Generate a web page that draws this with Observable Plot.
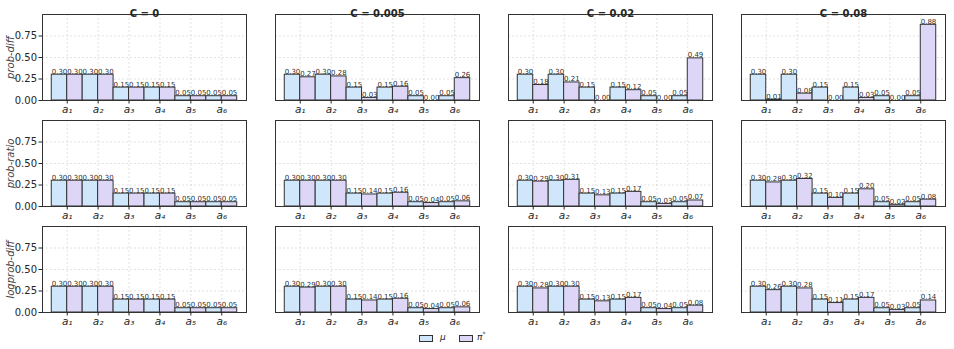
<!DOCTYPE html>
<html>
<head>
<meta charset="utf-8">
<script src="https://cdn.jsdelivr.net/npm/d3@7"></script>
<script src="https://cdn.jsdelivr.net/npm/@observablehq/plot@0.6"></script>
<style>
  html, body { margin: 0; padding: 0; background: #fff; }
  body { width: 954px; height: 349px; position: relative; font-family: "DejaVu Sans", sans-serif; overflow: hidden; }
  #chart svg { display: block; overflow: visible; }
  #legend { position: absolute; left: 419px; top: 333px; height: 10px; font-family: "DejaVu Sans", sans-serif; font-size: 9px; color: #262626; }
  #legend .sw { position: absolute; top: 2px; width: 12px; height: 5px; border: 1px solid #333; }
  #legend .lb { position: absolute; top: -1px; font-style: italic; line-height: 10px; }
</style>
</head>
<body>
<div id="chart"></div>
<div id="legend">
  <span class="sw" style="left:0px;background:#d0e6fa"></span><span class="lb" style="left:21px">μ</span>
  <span class="sw" style="left:40px;background:#ddd6f6"></span><span class="lb" style="left:58px">π<sup style="font-size:6px;vertical-align:4px;line-height:0">*</sup></span>
</div>
<script>
// ---- data ----
const actions = ["a1", "a2", "a3", "a4", "a5", "a6"];
const actionLabels = ["a₁", "a₂", "a₃", "a₄", "a₅", "a₆"];
const cValues = ["0", "0.005", "0.02", "0.08"];
const metrics = ["prob-diff", "prob-ratio", "logprob-diff"];
const seriesNames = ["μ", "π*"];

const muProbs = [0.30, 0.30, 0.15, 0.15, 0.05, 0.05];

// π* per C (columns) for each metric
const piProbDiff = [
  [0.30, 0.30, 0.15, 0.15, 0.05, 0.05],
  [0.27, 0.28, 0.03, 0.16, 0.00, 0.26],
  [0.18, 0.21, 0.00, 0.12, 0.00, 0.49],
  [0.01, 0.08, 0.00, 0.03, 0.00, 0.88]
];
const piProbRatio = [
  [0.30, 0.30, 0.15, 0.15, 0.05, 0.05],
  [0.30, 0.30, 0.14, 0.16, 0.04, 0.06],
  [0.29, 0.31, 0.13, 0.17, 0.03, 0.07],
  [0.28, 0.32, 0.10, 0.20, 0.02, 0.08]
];
const piLogprobDiff = [
  [0.30, 0.30, 0.15, 0.15, 0.05, 0.05],
  [0.29, 0.30, 0.14, 0.16, 0.04, 0.06],
  [0.28, 0.30, 0.13, 0.17, 0.04, 0.08],
  [0.26, 0.28, 0.11, 0.17, 0.03, 0.14]
];
const yTicks = [0, 0.25, 0.5, 0.75];

// ---- table ----
const piByMetric = {"prob-diff": piProbDiff, "prob-ratio": piProbRatio, "logprob-diff": piLogprobDiff};
const rows = [];
for (const m of metrics) {
  cValues.forEach((c, ci) => {
    actions.forEach((a, i) => {
      rows.push({metric: m, C: c, i, series: "μ", value: muProbs[i]});
      rows.push({metric: m, C: c, i, series: "π*", value: piByMetric[m][ci][i]});
    });
  });
}
const left = d => d.i - 0.5 + (d.series === "μ" ? 0 : 0.5);
const right = d => left(d) + 0.5;
const center = d => left(d) + 0.25;

const chart = Plot.plot({
  width: 954,
  height: 326,
  marginTop: 14,
  marginBottom: 14,
  marginLeft: 42,
  marginRight: 8,
  style: {fontFamily: "DejaVu Sans, sans-serif", color: "#262626", background: "#fff"},
  fx: {domain: cValues, paddingInner: 0.124, paddingOuter: 0, axis: null},
  fy: {domain: metrics, paddingInner: 0.1887, paddingOuter: 0, axis: null},
  x: {domain: [-0.8, 5.8]},
  y: {domain: [0, 1.0]},
  color: {domain: seriesNames, range: ["#d0e6fa", "#ddd6f6"]},
  marks: [
    Plot.gridX({ticks: [0, 1, 2, 3, 4, 5], stroke: "#b0b0b0", strokeOpacity: 0.35, strokeDasharray: "2,2"}),
    Plot.gridY({ticks: [0.25, 0.5, 0.75], stroke: "#b0b0b0", strokeOpacity: 0.35, strokeDasharray: "2,2"}),
    Plot.rect(rows, {x1: left, x2: right, y1: 0, y2: "value", fx: "C", fy: "metric", fill: "series", stroke: "#333", strokeWidth: 1}),
    Plot.frame({stroke: "#333", strokeWidth: 1}),
    Plot.text(rows, {x: center, y: "value", fx: "C", fy: "metric", text: d => d.value.toFixed(2), lineAnchor: "bottom", dy: -1, fontSize: 7, fill: "#222", fillOpacity: 0.99}),
    Plot.text(cValues, {fx: d => d, fy: () => "prob-diff", frameAnchor: "top", dy: -5, text: d => `C = ${d}`, fontWeight: "bold", fontSize: 10}),
    Plot.text(metrics, {fy: d => d, fx: () => "0", frameAnchor: "left", textAnchor: "middle", dx: -32, rotate: -90, text: d => d, fontStyle: "italic", fontSize: 10, fill: "#444"}),
    Plot.axisY({ticks: yTicks, tickFormat: d3.format(".2f"), tickSize: 3.5, tickPadding: 2, label: null, fontSize: 10}),
    Plot.axisX({ticks: [0, 1, 2, 3, 4, 5], tickFormat: i => actionLabels[i], tickSize: 3.5, tickPadding: 2, label: null, fontSize: 10.5, fontStyle: "italic", facetAnchor: null})
  ]
});
document.getElementById("chart").appendChild(chart);
</script>
</body>
</html>
